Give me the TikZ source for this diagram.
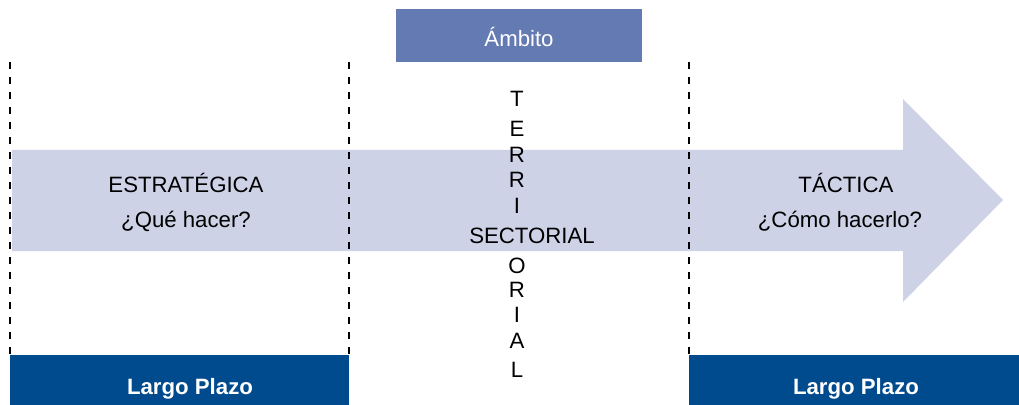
\documentclass[tikz,border=0pt]{standalone}
\usepackage{fontspec}
\setmainfont{Liberation Sans}
\definecolor{ambitoblue}{HTML}{647AB3}
\definecolor{arrowlilac}{HTML}{CDD2E7}
\definecolor{plazoblue}{HTML}{004A8E}

\begin{document}
\begin{tikzpicture}[x=0.25mm, y=-0.25mm,
    txt/.style={inner sep=0pt, anchor=base, font=\fontsize{15.8}{19}\selectfont},
    wtxt/.style={txt, text=white},
    sepline/.style={line width=0.8pt, dash pattern=on 1.75mm off 2mm}]
    \useasboundingbox (0,0) rectangle (1019,405);

    % Big arrow
    \fill[arrowlilac] (12,150) -- (903,150) -- (903,99) -- (1003,200)
        -- (903,302) -- (903,251) -- (12,251) -- cycle;

    % Ambito header
    \fill[ambitoblue] (396,9) rectangle (642,62);
    \node[wtxt] (ambito) at (519,47) {Ámbito};

    % Dashed separators
    \coordinate (s1a) at (10,62);  \coordinate (s1b) at (10,355);
    \coordinate (s2a) at (349,62); \coordinate (s2b) at (349,355);
    \coordinate (s3a) at (689,62); \coordinate (s3b) at (689,355);
    \draw[sepline] (s1a) -- (s1b);
    \draw[sepline] (s2a) -- (s2b);
    \draw[sepline] (s3a) -- (s3b);

    % Left and right texts
    \node[txt] (estrat) at (186,192) {ESTRATÉGICA};
    \node[txt] (estratq) at (186,227) {¿Qué hacer?};
    \node[txt] (tact) at (846,192) {TÁCTICA};
    \node[txt] (tactq) at (840,227) {¿Cómo hacerlo?};

    % Vertical word
    \node[txt] (t1) at (517,107) {T};
    \node[txt] (t2) at (517,137) {E};
    \node[txt] (t3) at (517,163) {R};
    \node[txt] (t4) at (517,187) {R};
    \node[txt] (t5) at (517,213) {I};
    \node[txt] (sect) at (532,243) {SECTORIAL};
    \node[txt] (t7) at (517,273) {O};
    \node[txt] (t8) at (517,297) {R};
    \node[txt] (t9) at (517,322) {I};
    \node[txt] (t10) at (517,348) {A};
    \node[txt] (t11) at (517,377) {L};

    % Bottom bars
    \fill[plazoblue] (10,355) rectangle (349,405);
    \fill[plazoblue] (689,355) rectangle (1019,405);
    \node[wtxt, font=\fontsize{15.8}{19}\selectfont\bfseries] (plazoL) at (190,394) {Largo Plazo};
    \node[wtxt, font=\fontsize{15.8}{19}\selectfont\bfseries] (plazoR) at (856,394) {Largo Plazo};
\end{tikzpicture}
\end{document}
